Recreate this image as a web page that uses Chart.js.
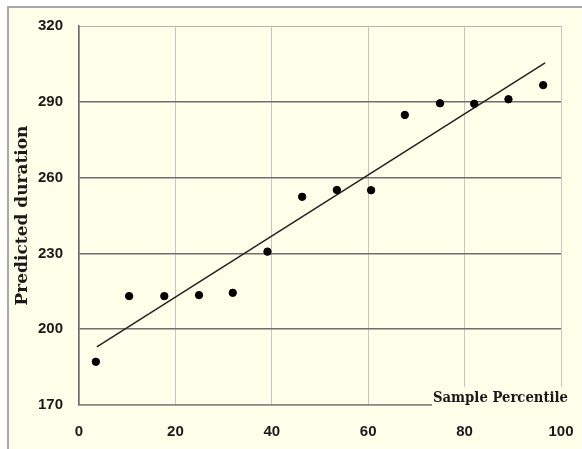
<!DOCTYPE html>
<html>
<head>
<meta charset="utf-8">
<script src="https://cdn.jsdelivr.net/npm/chart.js@4"></script>
<style>
  body { margin: 0; background: #fff; }
  canvas { display: block; }
</style>
</head>
<body>
<canvas id="chart" width="582" height="449"></canvas>
<script>
// данные
const percentiles = [3.5, 10.4, 17.7, 24.9, 31.9, 39.1, 46.3, 53.5, 60.6, 67.6, 74.9, 82.0, 89.1, 96.3];
const durations = [187.1, 213.1, 213.1, 213.5, 214.4, 230.7, 252.4, 255.1, 255.0, 284.8, 289.4, 289.2, 291.0, 296.6];
const fitX = [3.7, 96.7];
const fitY = [193, 305.4];
const xTicks = [0, 20, 40, 60, 80, 100];
const yTicks = [170, 200, 230, 260, 290, 320];

const CREAM = '#fefee9';
const tickFont = { family: "'Liberation Sans Narrow', 'Arial Narrow', 'Liberation Sans', Arial, sans-serif", size: 15, weight: 'bold' };

// фон и рамка
const framePlugin = {
  id: 'frame',
  beforeDraw(chart) {
    const { ctx, width, height } = chart;
    ctx.save();
    ctx.fillStyle = '#fff';
    ctx.fillRect(0, 0, width, height);
    ctx.fillStyle = CREAM;
    ctx.fillRect(9, 8, width - 9, height - 8);
    ctx.fillStyle = '#a8a8a8';
    ctx.fillRect(7, 6, 2, height - 6);
    ctx.fillRect(7, 6, width - 7, 2);
    ctx.restore();
  },
  // подпись оси x внутри графика, чуть сжатая по ширине
  afterDraw(chart) {
    const { ctx, chartArea } = chart;
    ctx.save();
    ctx.font = "bold 15px 'DejaVu Serif', serif";
    ctx.textAlign = 'right';
    ctx.textBaseline = 'alphabetic';
    const text = 'Sample Percentile';
    const w = ctx.measureText(text).width;
    const k = Math.min(1, 135 / w);
    const right = chartArea.right + 7;
    ctx.fillStyle = CREAM;
    ctx.fillRect(right - w * k - 1, chartArea.bottom - 18, w * k + 4, 25);
    ctx.fillStyle = '#1a1a1a';
    ctx.translate(right, chartArea.bottom - 3);
    ctx.scale(k, 1);
    ctx.fillText(text, 0, 0);
    ctx.restore();
  }
};

new Chart(document.getElementById('chart'), {
  data: {
    datasets: [
      {
        type: 'scatter',
        data: percentiles.map((x, i) => ({ x, y: durations[i] })),
        backgroundColor: '#000',
        borderColor: '#000',
        pointRadius: 3.7,
        pointHoverRadius: 3.7,
      },
      {
        type: 'line',
        data: fitX.map((x, i) => ({ x, y: fitY[i] })),
        borderColor: '#222',
        borderWidth: 1.5,
        pointRadius: 0,
        fill: false,
      },
    ],
  },
  options: {
    responsive: false,
    animation: false,
    layout: { padding: { top: 26, right: 21, left: 0, bottom: 0 } },
    plugins: { legend: { display: false }, tooltip: { enabled: false } },
    scales: {
      x: {
        type: 'linear',
        min: 0,
        max: 100,
        afterBuildTicks: s => { s.ticks = xTicks.map(v => ({ value: v })); },
        afterFit: s => { s.height = 44; s.paddingLeft = 0; s.paddingRight = 0; },
        ticks: { color: '#1a1a1a', font: tickFont, padding: 18, maxRotation: 0 },
        grid: { color: '#c6c6c6', lineWidth: 1, drawTicks: false },
        border: { color: '#8a8a8a', width: 1.5 },
      },
      y: {
        type: 'linear',
        min: 170,
        max: 320,
        afterBuildTicks: s => { s.ticks = yTicks.map(v => ({ value: v })); },
        afterFit: s => { s.width = 79; s.paddingTop = 0; s.paddingBottom = 0; },
        ticks: { color: '#1a1a1a', font: tickFont, padding: 16 },
        grid: {
          drawTicks: false,
          color: c => (c.tick && c.tick.value === 320 ? '#b4b4b4' : '#6e6e6e'),
          lineWidth: c => (c.tick && c.tick.value === 320 ? 1 : 1.6),
        },
        border: { color: '#6a6a6a', width: 1.5 },
        title: {
          display: true,
          text: 'Predicted duration',
          color: '#1a1a1a',
          font: { family: "'DejaVu Serif', serif", size: 17, weight: 'bold' },
          padding: { top: 12, bottom: 0 },
        },
      },
    },
  },
  plugins: [framePlugin],
});
</script>
</body>
</html>
